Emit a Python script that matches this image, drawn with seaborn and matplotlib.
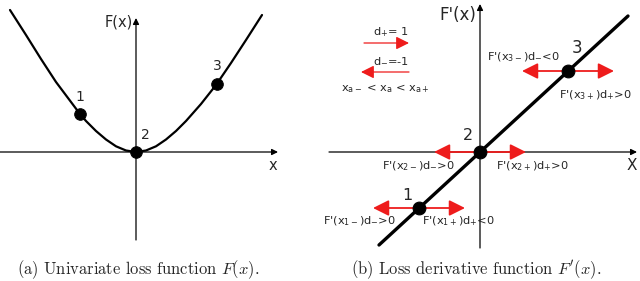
import numpy as np
import pandas as pd
import matplotlib
matplotlib.use("Agg")
import matplotlib.pyplot as plt
import seaborn as sns

# ---- data (arbitrary units, origin at the axis crossing) ----
# (a) loss curve F(x)
curve_x = [-126, -110, -95, -80, -65, -56, -50, -40, -30, -20, -10, 0,
           10, 20, 30, 40, 50, 65, 80, 95, 110, 126]
curve_y = [142, 117, 93, 70, 50, 38, 31, 21, 12.5, 5.7, 1.5, 0,
           1.5, 5.7, 12.5, 21, 31, 48, 67, 89, 112, 137]
pts_a_x = [-56, 0, 81]
pts_a_y = [38, 0, 68]
pts_labels = ["1", "2", "3"]

# (b) derivative F'(x)
line_x = [-101, 148]
line_y = [-93, 136]
pts_b_x = [-61, 0, 88]
pts_b_y = [-56, 0, 81]
arrow_len = 46

sns.set_style("white")
plt.rcParams["font.family"] = ["DejaVu Sans"]

fig = plt.figure(figsize=(6.4, 2.81), dpi=100)
W, H = 640, 281

def panel(left, top, width, height, x0, y0):
    ax = fig.add_axes([left / W, 1 - (top + height) / H, width / W, height / H])
    ax.set_xlim(left - x0, left + width - x0)
    ax.set_ylim(y0 - (top + height), y0 - top)
    ax.axis("off")
    return ax

def axis_arrow(ax, start, end):
    ax.annotate("", xy=end, xytext=start,
                arrowprops=dict(arrowstyle="-|>", color="black", lw=0.9,
                                mutation_scale=9, shrinkA=0, shrinkB=0))

# ---------------- (a) ----------------
ax1 = panel(0, 0, 285, 250, 136, 152)
axis_arrow(ax1, (-136, 0), (142, 0))
axis_arrow(ax1, (0, -88), (0, 134))
df_a = pd.DataFrame({"x": curve_x, "y": curve_y})
sns.lineplot(data=df_a, x="x", y="y", ax=ax1, color="black", lw=1.6)
sns.scatterplot(x=pts_a_x, y=pts_a_y, ax=ax1, color="black", s=70,
                edgecolor="black", zorder=5)
ax1.text(-3, 130, "F(x)", ha="right", va="center", fontsize=10.5)
ax1.text(137, -13, "x", ha="center", va="center", fontsize=10.5)
lab_off = [(0, 17), (9, 17), (0, 18)]
for px, py, lab, (dx, dy) in zip(pts_a_x, pts_a_y, pts_labels, lab_off):
    ax1.text(px + dx, py + dy, lab, ha="center", va="center", fontsize=10)

# ---------------- (b) ----------------
ax2 = panel(320, 0, 320, 250, 480, 152)
axis_arrow(ax2, (-151, 0), (157, 0))
axis_arrow(ax2, (0, -96), (0, 148))
df_b = pd.DataFrame({"x": line_x, "y": line_y})
sns.lineplot(data=df_b, x="x", y="y", ax=ax2, color="black", lw=2.4)

red = "#ee1c1c"
def red_arrow(ax, start, end, lw=1.3, ms=16):
    ax.annotate("", xy=end, xytext=start,
                arrowprops=dict(arrowstyle="-|>,head_length=0.6,head_width=0.3",
                                color=red, lw=lw, mutation_scale=ms,
                                shrinkA=0, shrinkB=0))

for px, py in zip(pts_b_x, pts_b_y):
    red_arrow(ax2, (px, py), (px - arrow_len, py))
    red_arrow(ax2, (px, py), (px + arrow_len, py))
sns.scatterplot(x=pts_b_x, y=pts_b_y, ax=ax2, color="black", s=85,
                edgecolor="black", zorder=5)

# legend-like arrows
red_arrow(ax2, (-116, 109), (-71, 109), lw=0.9, ms=13)
red_arrow(ax2, (-71, 80), (-119, 80), lw=0.9, ms=13)
fs = 8.2
ax2.text(-89, 120, r"d$_{+}$= 1", ha="center", va="center", fontsize=fs)
ax2.text(-89, 91, r"d$_{-}$=-1", ha="center", va="center", fontsize=fs)
ax2.text(-95, 63, r"x$_{\mathrm{a}-}$ < x$_{\mathrm{a}}$ < x$_{\mathrm{a}+}$",
         ha="center", va="center", fontsize=fs)

ax2.text(-4, 137, "F'(x)", ha="right", va="center", fontsize=12)
ax2.text(152, -14, "X", ha="center", va="center", fontsize=11)
ax2.text(97, 104, "3", ha="center", va="center", fontsize=12)
ax2.text(-12, 17, "2", ha="center", va="center", fontsize=11.5)
ax2.text(-73, -43, "1", ha="center", va="center", fontsize=11.5)

ann = [
    (43, 95, r"F'(x$_{\mathrm{3}-}$)d$_{-}$<0"),
    (115, 57, r"F'(x$_{\mathrm{3}+}$)d$_{+}$>0"),
    (-62, -14, r"F'(x$_{\mathrm{2}-}$)d$_{-}$>0"),
    (52, -14, r"F'(x$_{\mathrm{2}+}$)d$_{+}$>0"),
    (-121, -69, r"F'(x$_{\mathrm{1}-}$)d$_{-}$>0"),
    (-22, -69, r"F'(x$_{\mathrm{1}+}$)d$_{+}$<0"),
]
for tx, ty, s in ann:
    ax2.text(tx, ty, s, ha="center", va="center", fontsize=fs)

# captions
fig.text(138 / W, 1 - 270 / H, r"(a) Univariate loss function $F(x)$.",
         ha="center", va="center", fontsize=11.9, family="cmr10", math_fontfamily="cm")
fig.text(476 / W, 1 - 270 / H, r"(b) Loss derivative function $F'(x)$.",
         ha="center", va="center", fontsize=11.9, family="cmr10", math_fontfamily="cm")

fig.savefig("out.png", dpi=100, facecolor="white")
